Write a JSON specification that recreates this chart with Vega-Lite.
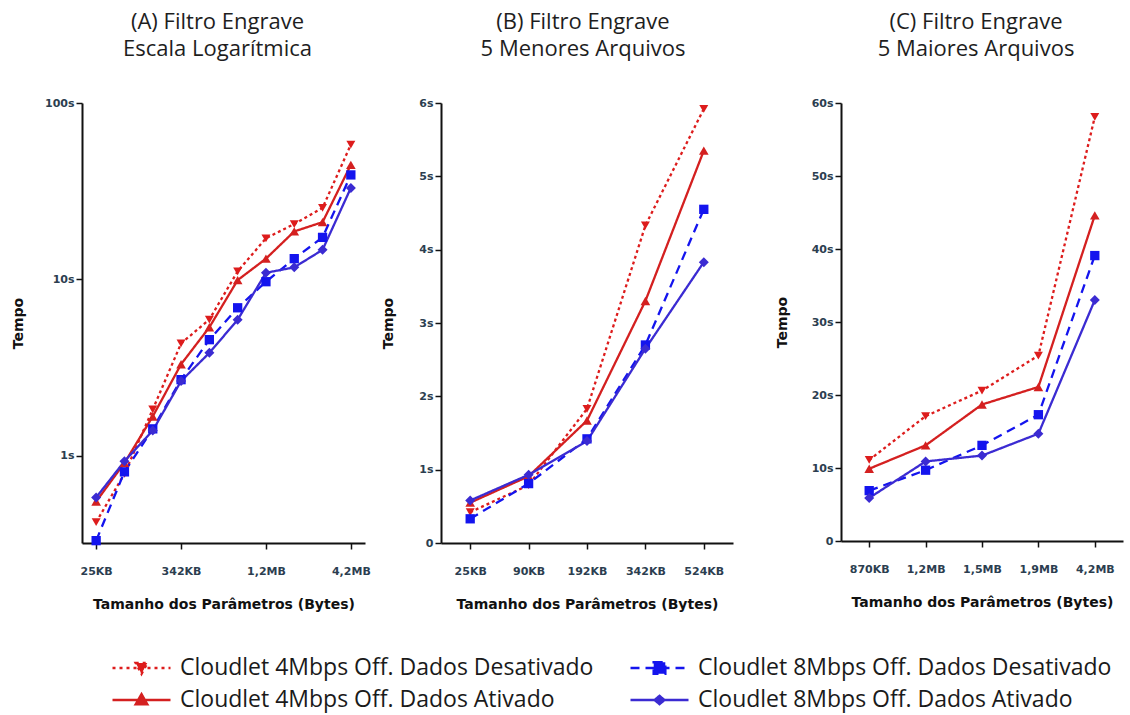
{
  "$schema": "https://vega.github.io/schema/vega-lite/v6.json",
  "padding": {"left": 11, "top": 11, "right": 2, "bottom": 0},
  "background": "white",
  "datasets": {
    "d": [
      {"size": "25KB", "series": "Cloudlet 4Mbps Off. Dados Desativado", "tempo": 0.42},
      {"size": "90KB", "series": "Cloudlet 4Mbps Off. Dados Desativado", "tempo": 0.79},
      {"size": "192KB", "series": "Cloudlet 4Mbps Off. Dados Desativado", "tempo": 1.83},
      {"size": "342KB", "series": "Cloudlet 4Mbps Off. Dados Desativado", "tempo": 4.33},
      {"size": "524KB", "series": "Cloudlet 4Mbps Off. Dados Desativado", "tempo": 5.92},
      {"size": "870KB", "series": "Cloudlet 4Mbps Off. Dados Desativado", "tempo": 11.1},
      {"size": "1,2MB", "series": "Cloudlet 4Mbps Off. Dados Desativado", "tempo": 17.1},
      {"size": "1,5MB", "series": "Cloudlet 4Mbps Off. Dados Desativado", "tempo": 20.6},
      {"size": "1,9MB", "series": "Cloudlet 4Mbps Off. Dados Desativado", "tempo": 25.4},
      {"size": "4,2MB", "series": "Cloudlet 4Mbps Off. Dados Desativado", "tempo": 58.1},
      {"size": "25KB", "series": "Cloudlet 4Mbps Off. Dados Ativado", "tempo": 0.55},
      {"size": "90KB", "series": "Cloudlet 4Mbps Off. Dados Ativado", "tempo": 0.91},
      {"size": "192KB", "series": "Cloudlet 4Mbps Off. Dados Ativado", "tempo": 1.67},
      {"size": "342KB", "series": "Cloudlet 4Mbps Off. Dados Ativado", "tempo": 3.3},
      {"size": "524KB", "series": "Cloudlet 4Mbps Off. Dados Ativado", "tempo": 5.35},
      {"size": "870KB", "series": "Cloudlet 4Mbps Off. Dados Ativado", "tempo": 9.9},
      {"size": "1,2MB", "series": "Cloudlet 4Mbps Off. Dados Ativado", "tempo": 13.1},
      {"size": "1,5MB", "series": "Cloudlet 4Mbps Off. Dados Ativado", "tempo": 18.7},
      {"size": "1,9MB", "series": "Cloudlet 4Mbps Off. Dados Ativado", "tempo": 21.1},
      {"size": "4,2MB", "series": "Cloudlet 4Mbps Off. Dados Ativado", "tempo": 44.6},
      {"size": "25KB", "series": "Cloudlet 8Mbps Off. Dados Desativado", "tempo": 0.33},
      {"size": "90KB", "series": "Cloudlet 8Mbps Off. Dados Desativado", "tempo": 0.81},
      {"size": "192KB", "series": "Cloudlet 8Mbps Off. Dados Desativado", "tempo": 1.42},
      {"size": "342KB", "series": "Cloudlet 8Mbps Off. Dados Desativado", "tempo": 2.7},
      {"size": "524KB", "series": "Cloudlet 8Mbps Off. Dados Desativado", "tempo": 4.55},
      {"size": "870KB", "series": "Cloudlet 8Mbps Off. Dados Desativado", "tempo": 6.9},
      {"size": "1,2MB", "series": "Cloudlet 8Mbps Off. Dados Desativado", "tempo": 9.7},
      {"size": "1,5MB", "series": "Cloudlet 8Mbps Off. Dados Desativado", "tempo": 13.1},
      {"size": "1,9MB", "series": "Cloudlet 8Mbps Off. Dados Desativado", "tempo": 17.3},
      {"size": "4,2MB", "series": "Cloudlet 8Mbps Off. Dados Desativado", "tempo": 39.1},
      {"size": "25KB", "series": "Cloudlet 8Mbps Off. Dados Ativado", "tempo": 0.58},
      {"size": "90KB", "series": "Cloudlet 8Mbps Off. Dados Ativado", "tempo": 0.93},
      {"size": "192KB", "series": "Cloudlet 8Mbps Off. Dados Ativado", "tempo": 1.39},
      {"size": "342KB", "series": "Cloudlet 8Mbps Off. Dados Ativado", "tempo": 2.65},
      {"size": "524KB", "series": "Cloudlet 8Mbps Off. Dados Ativado", "tempo": 3.83},
      {"size": "870KB", "series": "Cloudlet 8Mbps Off. Dados Ativado", "tempo": 5.9},
      {"size": "1,2MB", "series": "Cloudlet 8Mbps Off. Dados Ativado", "tempo": 10.9},
      {"size": "1,5MB", "series": "Cloudlet 8Mbps Off. Dados Ativado", "tempo": 11.7},
      {"size": "1,9MB", "series": "Cloudlet 8Mbps Off. Dados Ativado", "tempo": 14.7},
      {"size": "4,2MB", "series": "Cloudlet 8Mbps Off. Dados Ativado", "tempo": 33.0}
    ]
  },
  "vconcat": [
    {
      "spacing": 10,
      "hconcat": [
        {
          "width": 283, "height": 440,
          "title": {"text": ["(A) Filtro Engrave", "Escala Logarítmica"], "frame": "group", "dx": -6},
          "data": {"name": "d"},
          "encoding": {
            "x": {"field": "size", "type": "ordinal", "sort": ["25KB","90KB","192KB","342KB","524KB","870KB","1,2MB","1,5MB","1,9MB","4,2MB"], "scale": {"type": "point", "padding": 0.5}, "axis": {"values": ["25KB","342KB","1,2MB","4,2MB"], "title": "Tamanho dos Parâmetros (Bytes)"}},
            "y": {"field": "tempo", "type": "quantitative", "scale": {"type": "log", "domain": [0.32, 100], "nice": false}, "axis": {"values": [1, 10, 100], "labelExpr": "datum.value + 's'", "title": "Tempo", "minExtent": 55, "maxExtent": 55, "titlePadding": 2}},
            "color": {"field": "series", "type": "nominal", "scale": {"domain": ["Cloudlet 4Mbps Off. Dados Desativado","Cloudlet 8Mbps Off. Dados Desativado","Cloudlet 4Mbps Off. Dados Ativado","Cloudlet 8Mbps Off. Dados Ativado"], "range": ["#dd1c1c","#1414ee","#d42020","#3b2bd2"]}, "legend": null}
          },
          "layer": [
            {"mark": {"type": "line", "strokeWidth": 2.3}, "encoding": {"strokeDash": {"field": "series", "type": "nominal", "scale": {"domain": ["Cloudlet 4Mbps Off. Dados Desativado","Cloudlet 8Mbps Off. Dados Desativado","Cloudlet 4Mbps Off. Dados Ativado","Cloudlet 8Mbps Off. Dados Ativado"], "range": [[3,3],[9,6],[1,0],[1,0]]}, "legend": null}}},
            {"mark": {"type": "point", "filled": true, "opacity": 1}, "encoding": {
              "shape": {"field": "series", "type": "nominal", "scale": {"domain": ["Cloudlet 4Mbps Off. Dados Desativado","Cloudlet 8Mbps Off. Dados Desativado","Cloudlet 4Mbps Off. Dados Ativado","Cloudlet 8Mbps Off. Dados Ativado"], "range": ["triangle-down","square","triangle-up","diamond"]}, "legend": null},
              "size": {"field": "series", "type": "nominal", "scale": {"domain": ["Cloudlet 4Mbps Off. Dados Desativado","Cloudlet 8Mbps Off. Dados Desativado","Cloudlet 4Mbps Off. Dados Ativado","Cloudlet 8Mbps Off. Dados Ativado"], "range": [80, 100, 80, 60]}, "legend": null}
            }}
          ]
        },
        {
          "spacing": 42,
          "hconcat": [
            {
              "width": 292, "height": 440,
              "title": {"text": ["(B) Filtro Engrave", "5 Menores Arquivos"], "frame": "group", "dx": -4},
              "data": {"name": "d"},
              "transform": [{"filter": {"field": "size", "oneOf": ["25KB","90KB","192KB","342KB","524KB"]}}],
              "encoding": {
                "x": {"field": "size", "type": "ordinal", "sort": ["25KB","90KB","192KB","342KB","524KB"], "scale": {"type": "point", "padding": 0.5}, "axis": {"title": "Tamanho dos Parâmetros (Bytes)"}},
                "y": {"field": "tempo", "type": "quantitative", "scale": {"domain": [0, 6], "nice": false}, "axis": {"values": [0,1,2,3,4,5,6], "labelExpr": "datum.value == 0 ? '0' : datum.value + 's'", "title": "Tempo", "minExtent": 44, "maxExtent": 44, "titlePadding": 2}},
                "color": {"field": "series", "type": "nominal", "scale": {"domain": ["Cloudlet 4Mbps Off. Dados Desativado","Cloudlet 8Mbps Off. Dados Desativado","Cloudlet 4Mbps Off. Dados Ativado","Cloudlet 8Mbps Off. Dados Ativado"], "range": ["#dd1c1c","#1414ee","#d42020","#3b2bd2"]}, "legend": null}
              },
              "layer": [
                {"mark": {"type": "line", "strokeWidth": 2.3}, "encoding": {"strokeDash": {"field": "series", "type": "nominal", "scale": {"domain": ["Cloudlet 4Mbps Off. Dados Desativado","Cloudlet 8Mbps Off. Dados Desativado","Cloudlet 4Mbps Off. Dados Ativado","Cloudlet 8Mbps Off. Dados Ativado"], "range": [[3,3],[9,6],[1,0],[1,0]]}, "legend": null}}},
                {"mark": {"type": "point", "filled": true, "opacity": 1}, "encoding": {
                  "shape": {"field": "series", "type": "nominal", "scale": {"domain": ["Cloudlet 4Mbps Off. Dados Desativado","Cloudlet 8Mbps Off. Dados Desativado","Cloudlet 4Mbps Off. Dados Ativado","Cloudlet 8Mbps Off. Dados Ativado"], "range": ["triangle-down","square","triangle-up","diamond"]}, "legend": null},
                  "size": {"field": "series", "type": "nominal", "scale": {"domain": ["Cloudlet 4Mbps Off. Dados Desativado","Cloudlet 8Mbps Off. Dados Desativado","Cloudlet 4Mbps Off. Dados Ativado","Cloudlet 8Mbps Off. Dados Ativado"], "range": [80, 100, 80, 60]}, "legend": null}
                }}
              ]
            },
            {
              "width": 282, "height": 438,
              "title": {"text": ["(C) Filtro Engrave", "5 Maiores Arquivos"], "frame": "group", "dx": -6},
              "data": {"name": "d"},
              "transform": [{"filter": {"field": "size", "oneOf": ["870KB","1,2MB","1,5MB","1,9MB","4,2MB"]}}],
              "encoding": {
                "x": {"field": "size", "type": "ordinal", "sort": ["870KB","1,2MB","1,5MB","1,9MB","4,2MB"], "scale": {"type": "point", "padding": 0.5}, "axis": {"title": "Tamanho dos Parâmetros (Bytes)"}},
                "y": {"field": "tempo", "type": "quantitative", "scale": {"domain": [0, 60], "nice": false}, "axis": {"values": [0,10,20,30,40,50,60], "labelExpr": "datum.value == 0 ? '0' : datum.value + 's'", "title": "Tempo", "minExtent": 50, "maxExtent": 50, "titlePadding": 2}},
                "color": {"field": "series", "type": "nominal", "scale": {"domain": ["Cloudlet 4Mbps Off. Dados Desativado","Cloudlet 8Mbps Off. Dados Desativado","Cloudlet 4Mbps Off. Dados Ativado","Cloudlet 8Mbps Off. Dados Ativado"], "range": ["#dd1c1c","#1414ee","#d42020","#3b2bd2"]}, "legend": null}
              },
              "layer": [
                {"mark": {"type": "line", "strokeWidth": 2.3}, "encoding": {"strokeDash": {"field": "series", "type": "nominal", "scale": {"domain": ["Cloudlet 4Mbps Off. Dados Desativado","Cloudlet 8Mbps Off. Dados Desativado","Cloudlet 4Mbps Off. Dados Ativado","Cloudlet 8Mbps Off. Dados Ativado"], "range": [[3,3],[9,6],[1,0],[1,0]]}, "legend": null}}},
                {"mark": {"type": "point", "filled": true, "opacity": 1}, "encoding": {
                  "shape": {"field": "series", "type": "nominal", "scale": {"domain": ["Cloudlet 4Mbps Off. Dados Desativado","Cloudlet 8Mbps Off. Dados Desativado","Cloudlet 4Mbps Off. Dados Ativado","Cloudlet 8Mbps Off. Dados Ativado"], "range": ["triangle-down","square","triangle-up","diamond"]}, "legend": null},
                  "size": {"field": "series", "type": "nominal", "scale": {"domain": ["Cloudlet 4Mbps Off. Dados Desativado","Cloudlet 8Mbps Off. Dados Desativado","Cloudlet 4Mbps Off. Dados Ativado","Cloudlet 8Mbps Off. Dados Ativado"], "range": [80, 100, 80, 60]}, "legend": null}
                }}
              ]
            }
          ]
        }
      ]
    },
    {
      "width": 1000, "height": 1,
      "data": {"name": "d"},
      "transform": [{"filter": "false"}],
      "mark": {"type": "point", "filled": true, "opacity": 1},
      "encoding": {
        "fill": {"field": "series", "type": "nominal", "scale": {"domain": ["Cloudlet 4Mbps Off. Dados Desativado","Cloudlet 4Mbps Off. Dados Ativado","Cloudlet 8Mbps Off. Dados Desativado","Cloudlet 8Mbps Off. Dados Ativado"], "range": ["#dd1c1c","#d42020","#1414ee","#3b2bd2"]}, "legend": {"orient": "none", "legendX": 29, "legendY": 42, "columns": 2}},
        "stroke": {"field": "series", "type": "nominal", "scale": {"domain": ["Cloudlet 4Mbps Off. Dados Desativado","Cloudlet 4Mbps Off. Dados Ativado","Cloudlet 8Mbps Off. Dados Desativado","Cloudlet 8Mbps Off. Dados Ativado"], "range": ["#dd1c1c","#d42020","#1414ee","#3b2bd2"]}, "legend": {"orient": "none", "legendX": 29, "legendY": 42, "columns": 2}},
        "shape": {"field": "series", "type": "nominal", "scale": {"domain": ["Cloudlet 4Mbps Off. Dados Desativado","Cloudlet 4Mbps Off. Dados Ativado","Cloudlet 8Mbps Off. Dados Desativado","Cloudlet 8Mbps Off. Dados Ativado"], "range": ["M-1,0H1M-0.2,-0.17H0.2L0,0.2Z", "M-1,0H1M-0.2,0.15H0.2L0,-0.2Z", "M-1,0H1M-0.2,-0.2H0.2V0.2H-0.2Z", "M-1,0H1M-0.17,0L0,-0.14L0.17,0L0,0.14Z"]}, "legend": {"orient": "none", "legendX": 29, "legendY": 42, "columns": 2}},
        "strokeDash": {"field": "series", "type": "nominal", "scale": {"domain": ["Cloudlet 4Mbps Off. Dados Desativado","Cloudlet 4Mbps Off. Dados Ativado","Cloudlet 8Mbps Off. Dados Desativado","Cloudlet 8Mbps Off. Dados Ativado"], "range": [[3,4],[1,0],[9,6],[1,0]]}, "legend": {"orient": "none", "legendX": 29, "legendY": 42, "columns": 2}}
      }
    }
  ],
  "spacing": 0,
  "resolve": {"scale": {"color": "independent", "fill": "independent", "stroke": "independent", "shape": "independent", "strokeDash": "independent", "size": "independent"}},
  "config": {
    "view": {"stroke": null},
    "title": {"font": "Open Sans", "fontSize": 22, "fontWeight": "normal", "color": "#1e1e1e", "lineHeight": 27, "offset": 36},
    "axis": {"grid": false, "domainColor": "#111111", "domainWidth": 2, "tickColor": "#111111", "tickWidth": 1.5, "tickSize": 6, "labelFont": "DejaVu Sans", "labelFontSize": 11, "labelFontWeight": "bold", "labelColor": "#2c3e50", "titleFont": "DejaVu Sans", "titleFontSize": 14, "titleFontWeight": "bold", "titleColor": "#111111"},
    "axisX": {"labelPadding": 16, "titlePadding": 21, "labelAngle": 0},
    "axisY": {"labelPadding": 2},
    "legend": {"title": null, "labelFont": "Open Sans", "labelFontSize": 23, "labelColor": "#1a1a1a", "labelLimit": 700, "symbolSize": 3364, "symbolStrokeWidth": 2.5, "clipHeight": 30, "rowPadding": 2, "columnPadding": 35, "labelOffset": 8, "padding": 0}
  }
}
